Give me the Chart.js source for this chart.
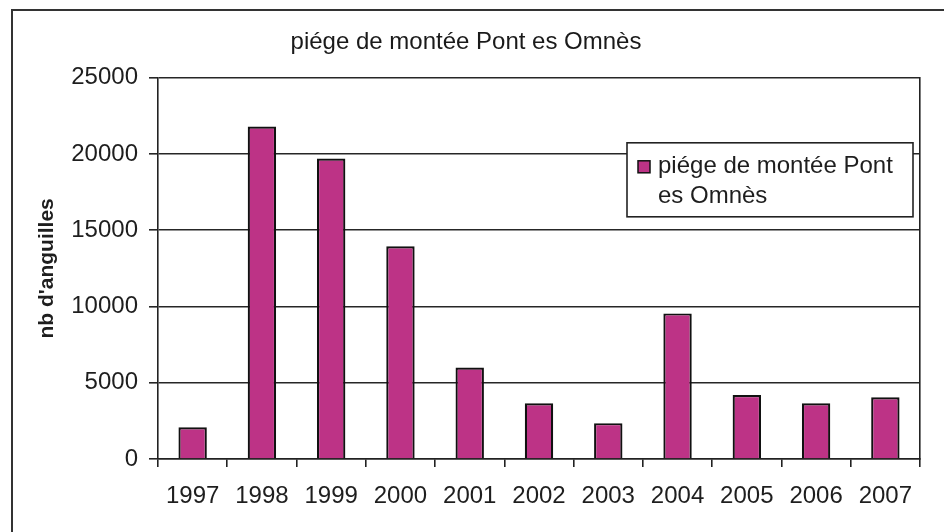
<!DOCTYPE html>
<html lang="fr">
<head>
  <meta charset="UTF-8" />
  <title>piége de montée Pont es Omnès</title>
  <script src="https://cdn.jsdelivr.net/npm/chart.js"></script>
  <style>
    body {
      margin: 0;
      padding: 0;
      background: #fff;
    }
    #wrap {
      position: relative;
      width: 944px;
      height: 532px;
      overflow: hidden;
    }
    #frame {
      position: absolute;
      left: 11px;
      top: 9px;
      width: 1000px;
      height: 1000px;
      border: 2px solid #333;
      pointer-events: none;
    }
  </style>
</head>
<body>

<div id="wrap">
  <canvas id="chart" width="944" height="532"></canvas>
  <div id="frame"></div>
</div>

<script>
  // données
  const annees = ['1997', '1998', '1999', '2000', '2001', '2002', '2003', '2004', '2005', '2006', '2007'];
  const nbAnguilles = [2080, 21800, 19700, 13950, 6000, 3650, 2350, 9550, 4200, 3650, 4050];
  const serieNom = 'piége de montée Pont es Omnès';
  const titre = 'piége de montée Pont es Omnès';
  const axeY = "nb d'anguilles";

  const police = '"Liberation Sans", Arial, sans-serif';

  // cadre de légende avec bordure, dans la zone du graphique
  const legendeBoite = {
    id: 'legendeBoite',
    afterDraw(chart) {
      const ctx = chart.ctx;
      const area = chart.chartArea;
      const ds = chart.data.datasets[0];
      const w = 286, h = 74;
      const x = area.right - 7 - w;
      const y = area.top + 65;
      ctx.save();
      ctx.fillStyle = '#fff';
      ctx.fillRect(x, y, w, h);
      ctx.strokeStyle = '#222';
      ctx.lineWidth = 1.6;
      ctx.strokeRect(x, y, w, h);

      ctx.fillStyle = ds.backgroundColor;
      ctx.fillRect(x + 11, y + 18, 12, 12);
      ctx.strokeStyle = '#111';
      ctx.lineWidth = 1.5;
      ctx.strokeRect(x + 11, y + 18, 12, 12);

      ctx.font = '24px ' + police;
      ctx.fillStyle = '#1e1e1e';
      ctx.textBaseline = 'middle';
      // coupure du texte en lignes
      const mots = ds.label.split(' ');
      const lignes = [];
      let ligne = '';
      mots.forEach(m => {
        const essai = ligne ? ligne + ' ' + m : m;
        if (ctx.measureText(essai).width > w - 40 && ligne) {
          lignes.push(ligne);
          ligne = m;
        } else {
          ligne = essai;
        }
      });
      lignes.push(ligne);
      lignes.forEach((l, i) => ctx.fillText(l, x + 31, y + 24 + i * 30));
      ctx.restore();
    }
  };

  const ctx = document.getElementById('chart').getContext('2d');
  const chart = new Chart(ctx, {
    type: 'bar',
    data: {
      labels: annees,
      datasets: [{
        label: serieNom,
        data: nbAnguilles,
        backgroundColor: '#bd3386',
        borderColor: '#111',
        borderWidth: 2.2,
        barPercentage: 0.41,
        categoryPercentage: 1
      }]
    },
    options: {
      responsive: false,
      animation: false,
      layout: {
        padding: { left: 12, right: 24, top: 0, bottom: 0 }
      },
      plugins: {
        legend: { display: false },
        tooltip: { enabled: false },
        title: {
          display: true,
          text: titre,
          color: '#1a1a1a',
          font: { family: police, size: 24, weight: 'normal' },
          padding: { top: 28, bottom: 21 }
        }
      },
      scales: {
        x: {
          afterFit: s => { s.height = 73; },
          grid: {
            drawOnChartArea: false,
            drawTicks: true,
            tickLength: 8,
            tickColor: '#222',
            lineWidth: 1.6
          },
          border: { display: true, color: '#222', width: 1.6 },
          ticks: {
            color: '#1e1e1e',
            padding: 15,
            maxRotation: 0,
            font: { family: police, size: 24 }
          }
        },
        y: {
          min: 0,
          max: 25000,
          afterFit: s => { s.width = 146; },
          grid: {
            color: '#262626',
            lineWidth: 1.6,
            tickLength: 9
          },
          border: { display: true, color: '#222', width: 1.6 },
          ticks: {
            stepSize: 5000,
            color: '#1e1e1e',
            padding: 11,
            font: { family: police, size: 24 },
            callback: v => String(v)
          },
          title: {
            display: true,
            text: axeY,
            color: '#1e1e1e',
            font: { family: police, size: 21, weight: 'bold' },
            padding: { top: 23, bottom: 0 }
          }
        },
        y2: {
          position: 'right',
          min: 0,
          max: 25000,
          grid: { display: false, drawTicks: false },
          border: { display: true, color: '#222', width: 1.6 },
          ticks: { display: false }
        }
      }
    },
    plugins: [legendeBoite]
  });
</script>

</body>
</html>
